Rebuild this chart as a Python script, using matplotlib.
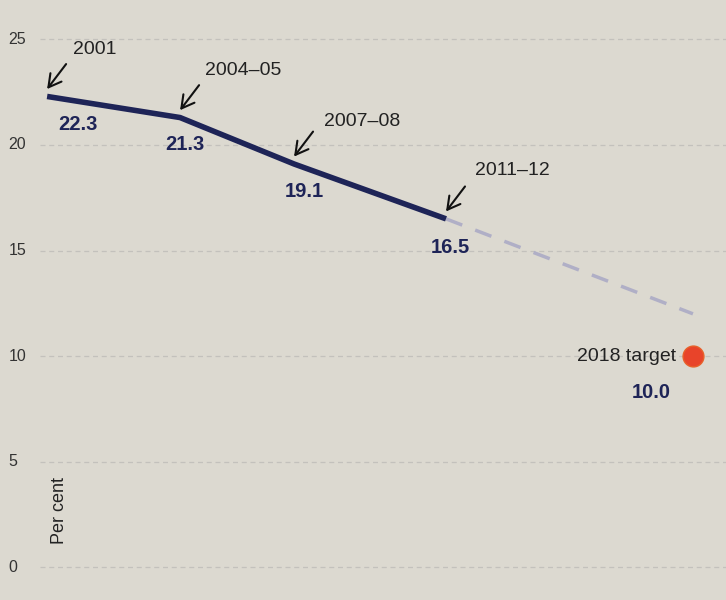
import matplotlib
matplotlib.use("Agg")
import matplotlib.pyplot as plt

# Data
periods = ["2001", "2004\u201305", "2007\u201308", "2011\u201312"]
period_x = [2001.0, 2004.5, 2007.5, 2011.5]
values = [22.3, 21.3, 19.1, 16.5]
value_labels = ["22.3", "21.3", "19.1", "16.5"]
projection_x = [2011.5, 2018.0]
projection_y = [16.5, 12.0]
target_x = 2018.0
target_value = 10.0
target_label = "2018 target"
yticks = [0, 5, 10, 15, 20, 25]

# label offsets in pixels (dx, dy) relative to the data point
period_offsets = [(48, 47), (63, 47), (68, 42), (66, 48)]
value_offsets = [(31, -28), (5, -27), (10, -28), (4, -29)]

bg = "#dcd9d0"
navy = "#1e2457"

fig = plt.figure(figsize=(7.26, 6.0), dpi=100, facecolor=bg)
ax = fig.add_axes([0, 0, 1, 1], facecolor=bg)
ax.set_xlim(1999.76, 2018.87)
ax.set_ylim(-1.56, 26.87)
for s in ax.spines.values():
    s.set_visible(False)
ax.set_xticks([])
ax.set_yticks([])

# gridlines
for t in yticks:
    ax.axhline(t, xmin=0.055, xmax=1.0, color="#c3c1bc", lw=0.9,
               ls=(0, (4, 3)), zorder=1)
    ax.text(0.012, t, str(t), transform=ax.get_yaxis_transform(),
            ha="left", va="center", fontsize=11.5, color="#333333",
            family="Liberation Sans")

# projection
ax.plot(projection_x, projection_y, color="#b0afc6", lw=2.5,
        ls=(0, (5, 4)), zorder=2, solid_capstyle="butt")

# main line
ax.plot(period_x, values, color=navy, lw=4.0, zorder=3,
        solid_capstyle="butt", solid_joinstyle="round")

for x, v, p, vl, po, vo in zip(period_x, values, periods, value_labels,
                               period_offsets, value_offsets):
    ax.annotate(p, xy=(x, v), xytext=po, textcoords="offset pixels",
                ha="center", va="center", fontsize=14, color="#222222",
                family="Liberation Sans")
    ax.annotate(vl, xy=(x, v), xytext=vo, textcoords="offset pixels",
                ha="center", va="center", fontsize=14.5, fontweight="bold",
                color=navy, family="Liberation Sans")
    ax.annotate("", xy=(x, v + 0.35), xytext=(19, 25),
                textcoords="offset pixels",
                arrowprops=dict(arrowstyle="->,head_length=0.9,head_width=0.5",
                                color="#111111", lw=1.5,
                                shrinkA=0, shrinkB=0), zorder=4)

# target
ax.plot([target_x], [target_value], "o", ms=15, color="#e8442a",
        markeredgecolor="#e8602a", zorder=4)
ax.annotate(target_label, xy=(target_x, target_value), xytext=(-17, 0),
            textcoords="offset pixels", ha="right", va="center",
            fontsize=14, color="#222222", family="Liberation Sans")
ax.annotate(f"{target_value:.1f}", xy=(target_x, target_value),
            xytext=(-42, -36), textcoords="offset pixels", ha="center",
            va="center", fontsize=14.5, fontweight="bold", color=navy,
            family="Liberation Sans")

# y label
fig.text(60 / 726, 1 - 510 / 600, "Per cent", rotation=90, ha="center",
         va="center", fontsize=13, color="#222222", family="Liberation Sans")

fig.savefig("out.png", dpi=100, facecolor=bg)
